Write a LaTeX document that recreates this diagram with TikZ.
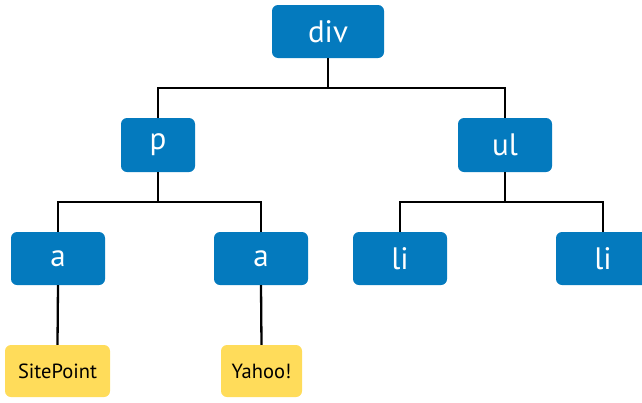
\documentclass[tikz,border=0pt]{standalone}
\usepackage{fontspec}
\setmainfont{PT Sans}
\definecolor{nodeblue}{RGB}{4,122,190}
\definecolor{leafyellow}{RGB}{255,220,90}
\begin{document}
\begin{tikzpicture}[x=1pt,y=-1pt,
  tag/.style={fill=nodeblue, rounded corners=6pt, text=white, font=\fontsize{31}{36}\selectfont,
    minimum width=94pt, minimum height=54pt, inner sep=0pt},
  leaf/.style={fill=leafyellow, rounded corners=6pt, text=black, font=\fontsize{20.5}{24}\selectfont,
    minimum height=52pt, inner sep=0pt},
  link/.style={draw=black, line width=2.3pt, line join=miter}]
\useasboundingbox (0,0) rectangle (642,402);
\node[tag, minimum width=112pt, minimum height=53pt] (div) at (328,31.5) {div};
\node[tag, minimum width=74pt] (p) at (158,145) {p};
\node[tag] (ul) at (505,145) {ul};
\node[tag, minimum height=53pt] (a1) at (58,258.5) {a};
\node[tag, minimum height=53pt] (a2) at (261,258.5) {a};
\node[tag, minimum height=53pt] (li1) at (400,258.5) {li};
\node[tag, minimum height=53pt] (li2) at (603,258.5) {li};
\node[leaf, minimum width=105pt] (sp) at (57.5,371) {SitePoint};
\node[leaf, minimum width=81pt] (ya) at (261.5,371) {Yahoo!};
\coordinate (bus1) at (328,88);
\coordinate (bus2) at (158,202);
\coordinate (bus3) at (505,202);
\draw[link] (div.south) -- (bus1);
\draw[link] (p.north) |- (bus1) -| (ul.north);
\draw[link] (p.south) -- (bus2);
\draw[link] (a1.north) |- (bus2) -| (a2.north);
\draw[link] (ul.south) -- (bus3);
\draw[link] (li1.north) |- (bus3) -| (li2.north);
\draw[link] (a1.south) -- (sp.north);
\draw[link] (a2.south) -- (ya.north);
\end{tikzpicture}
\end{document}
